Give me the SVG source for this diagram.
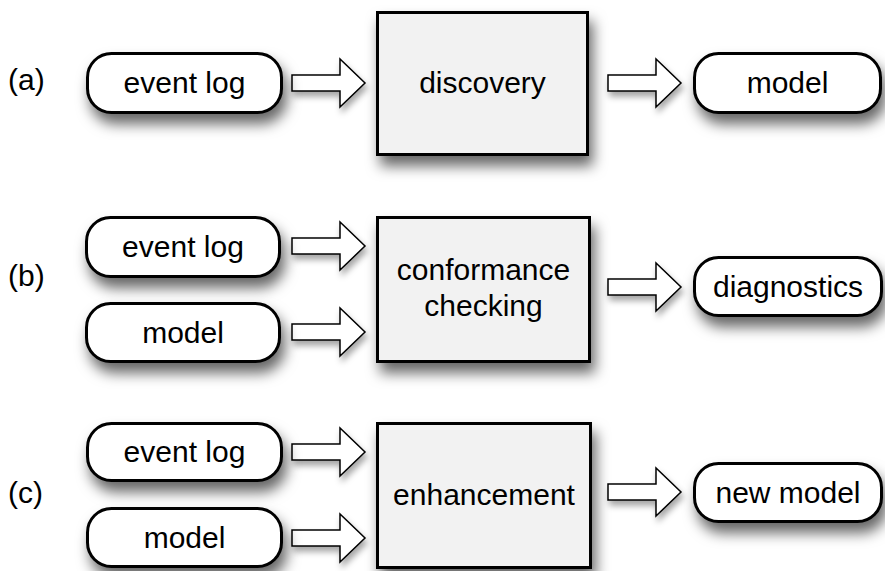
<svg xmlns="http://www.w3.org/2000/svg" xmlns:xlink="http://www.w3.org/1999/xlink" width="885" height="571" viewBox="0 0 885 571">
<defs>
<filter id="sh" x="-20%" y="-30%" width="150%" height="200%">
<feDropShadow dx="4" dy="10" stdDeviation="7" flood-color="#000" flood-opacity="0.6"/>
</filter>
<filter id="sh2" x="-20%" y="-40%" width="150%" height="200%">
<feDropShadow dx="2" dy="5" stdDeviation="3" flood-color="#000" flood-opacity="0.35"/>
</filter>
<path id="arr" d="M0,-8 H48 V-24 L73,0 L48,24 V8 H0 Z"/>
</defs>
<style>
.pill{fill:#fff;stroke:#000;stroke-width:3;filter:url(#sh)}
.box{fill:#f2f2f2;stroke:#000;stroke-width:3;filter:url(#sh)}
.arrow{fill:#fff;stroke:#000;stroke-width:1.5;filter:url(#sh2)}
text{font-family:"Liberation Sans",Arial,sans-serif;font-size:30px;fill:#000}
.c{text-anchor:middle}
</style>
<rect width="885" height="571" fill="#fff"/>
<g id="labels">
<text x="8" y="90">(a)</text>
<text x="8" y="286">(b)</text>
<text x="8" y="503">(c)</text>
</g>
<g id="connectors">
<use xlink:href="#arr" href="#arr" class="arrow" x="292" y="83"/>
<use xlink:href="#arr" href="#arr" class="arrow" x="608" y="83"/>
<use xlink:href="#arr" href="#arr" class="arrow" x="292" y="246"/>
<use xlink:href="#arr" href="#arr" class="arrow" x="292" y="332"/>
<use xlink:href="#arr" href="#arr" class="arrow" x="608" y="287"/>
<use xlink:href="#arr" href="#arr" class="arrow" x="292" y="452"/>
<use xlink:href="#arr" href="#arr" class="arrow" x="292" y="538"/>
<use xlink:href="#arr" href="#arr" class="arrow" x="608" y="492"/>
</g>
<g id="a-eventlog"><rect class="pill" x="87.5" y="53.5" width="194" height="59" rx="24"/><text class="c" x="184.5" y="93">event log</text></g>
<g id="a-discovery"><rect class="box" x="377.5" y="12.5" width="210" height="142"/><text class="c" x="482.5" y="93">discovery</text></g>
<g id="a-model"><rect class="pill" x="694.5" y="53.5" width="186" height="59" rx="24"/><text class="c" x="787.5" y="93">model</text></g>
<g id="b-eventlog"><rect class="pill" x="86.5" y="217.5" width="193" height="59" rx="24"/><text class="c" x="183" y="257">event log</text></g>
<g id="b-model"><rect class="pill" x="86.5" y="303.5" width="193" height="58" rx="24"/><text class="c" x="183" y="343">model</text></g>
<g id="b-conformance"><rect class="box" x="377.5" y="217.5" width="212" height="144"/><text class="c" x="483.5" y="280">conformance</text><text class="c" x="483.5" y="316">checking</text></g>
<g id="b-diagnostics"><rect class="pill" x="694.5" y="257.5" width="187" height="58" rx="24"/><text class="c" x="788" y="297">diagnostics</text></g>
<g id="c-eventlog"><rect class="pill" x="87.5" y="423.5" width="194" height="57" rx="24"/><text class="c" x="184.5" y="462">event log</text></g>
<g id="c-model"><rect class="pill" x="87.5" y="508.5" width="194" height="58" rx="24"/><text class="c" x="184.5" y="548">model</text></g>
<g id="c-enhancement"><rect class="box" x="377.5" y="423.5" width="213" height="144"/><text class="c" x="484" y="505">enhancement</text></g>
<g id="c-newmodel"><rect class="pill" x="694.5" y="463.5" width="187" height="58" rx="24"/><text class="c" x="788" y="503">new model</text></g>
</svg>
